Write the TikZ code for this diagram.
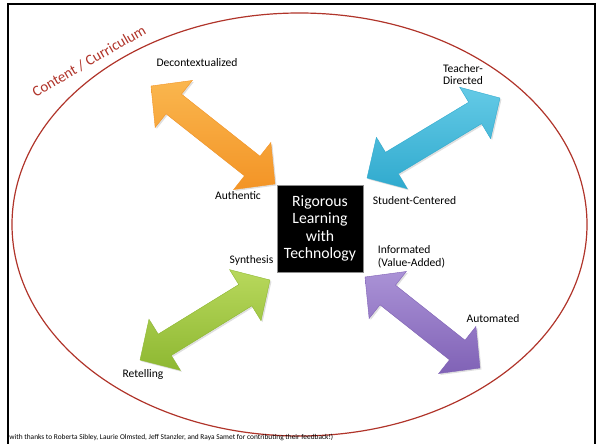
\documentclass[tikz,border=0pt]{standalone}
\usepackage{fontspec}
\setmainfont{Carlito}
\usetikzlibrary{calc,shadows}
\definecolor{curv}{RGB}{176,52,42}
\definecolor{orL}{RGB}{250,182,78}
\definecolor{orD}{RGB}{243,148,38}
\definecolor{blL}{RGB}{100,202,230}
\definecolor{blD}{RGB}{48,170,206}
\definecolor{grL}{RGB}{184,216,92}
\definecolor{grD}{RGB}{142,184,50}
\definecolor{puL}{RGB}{170,146,214}
\definecolor{puD}{RGB}{128,98,182}
\tikzset{
  lbl/.style={font=\fontsize{11.6}{12.5}\selectfont, inner sep=0pt, align=left},
  hub/.style={fill=black, draw=black!45, line width=0.6pt, minimum width=86bp, minimum height=87bp,
    text=white, align=center, font=\fontsize{15.8}{17.5}\selectfont, inner sep=0pt},
  arrbody/.style n args={2}{draw=#2, line width=0.4pt, top color=#1, bottom color=#2,
    drop shadow={opacity=0.25, shadow xshift=1.5pt, shadow yshift=-1.5pt}}
}
\newcommand\ahl{29bp}
\newcommand\ahw{30bp}
\newcommand\asw{12.5bp}
\newcommand\dblarr[4]{%
  \coordinate (#1h) at ($(#1)!\ahl!(#2)$);
  \coordinate (#2h) at ($(#2)!\ahl!(#1)$);
  \path[arrbody={#3}{#4}]
    (#1) -- ($(#1h)!\ahw!90:(#2)$) -- ($(#1h)!\asw!90:(#2)$)
    -- ($(#2h)!\asw!-90:(#1)$) -- ($(#2h)!\ahw!-90:(#1)$) -- (#2)
    -- ($(#2h)!\ahw!90:(#1)$) -- ($(#2h)!\asw!90:(#1)$)
    -- ($(#1h)!\asw!-90:(#2)$) -- ($(#1h)!\ahw!-90:(#2)$) -- cycle;
}
\begin{document}
\begin{tikzpicture}[x=1bp, y=-1bp]
\useasboundingbox (0,0) rectangle (598,444);
% frame
\draw[line width=2.2bp] (8,446) -- (8,4) -- (595,4) -- (595,446);
% curriculum ellipse
\draw[curv, line width=1.2bp] (299.5,224.5) ellipse [x radius=287.5, y radius=211.5];
\node[rotate=30, text=curv, font=\fontsize{15}{16}\selectfont, inner sep=0pt] (cc) at (89,61) {Content / Curriculum};
% arrow end points
\coordinate (oa) at (151,86);   \coordinate (ob) at (275,184);
\coordinate (ba) at (500,98);   \coordinate (bb) at (367,178);
\coordinate (ga) at (270,280);  \coordinate (gb) at (140,360);
\coordinate (pa) at (365,277);  \coordinate (pb) at (480,368);
\dblarr{oa}{ob}{orL}{orD}
\dblarr{ba}{bb}{blL}{blD}
\dblarr{ga}{gb}{grL}{grD}
\dblarr{pa}{pb}{puL}{puD}
% hub
\node[hub] (hub) at (320,228.5) {Rigorous\\Learning\\with\\Technology};
% labels
\node[lbl] (dec) at (197,63) {Decontextualized};
\node[lbl] (aut) at (238,196) {Authentic};
\node[lbl, font=\fontsize{11.6}{12}\selectfont] (tea) at (463,75) {Teacher-\\Directed};
\node[lbl] (stu) at (414.5,201) {Student-Centered};
\node[lbl] (syn) at (251.5,260.7) {Synthesis};
\node[lbl] (ret) at (143,374) {Retelling};
\node[lbl, font=\fontsize{11.6}{12.6}\selectfont] (inf) at (411.5,257) {Informated\\(Value-Added)};
\node[lbl] (aut2) at (493,319) {Automated};
% footnote
\node[anchor=west, inner sep=0pt, font=\fontsize{7.4}{8}\selectfont] (fn) at (7,437) {(with thanks to Roberta Sibley, Laurie Olmsted, Jeff Stanzler, and Raya Samet for contributing their feedback!)};
\end{tikzpicture}
\end{document}
